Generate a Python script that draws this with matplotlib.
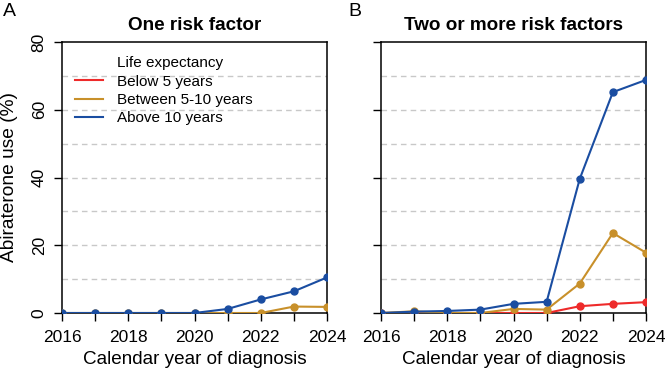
import matplotlib
matplotlib.use("Agg")
import matplotlib.pyplot as plt
from matplotlib.lines import Line2D
import numpy as np

plt.rcParams['font.family'] = ['Liberation Sans', 'DejaVu Sans']

years = [2016, 2017, 2018, 2019, 2020, 2021, 2022, 2023, 2024]
legend_title = "Life expectancy"
series_names = ["Below 5 years", "Between 5-10 years", "Above 10 years"]
colors = ["#EE2A2A", "#C8902A", "#1A4DA1"]

# Panel A: one risk factor (no visible 'below 5 years' line)
a_below5 = [np.nan] * 9
a_5to10 = [0, 0, 0, 0, 0, 0, 0, 1.9, 1.8]
a_above10 = [0, 0, 0, 0, 0, 1.2, 4.0, 6.4, 10.5]

# Panel B: two or more risk factors
b_below5 = [0, 0, 0, 0, 0, 0, 2.0, 2.7, 3.2]
b_5to10 = [0, 0.5, 0, 0, 1.2, 1.0, 8.7, 23.6, 17.8]
b_above10 = [0, 0.4, 0.6, 1.0, 2.7, 3.3, 39.6, 65.2, 68.8]

titles = ["One risk factor", "Two or more risk factors"]
panel_letters = ["A", "B"]
yticks = [0, 20, 40, 60, 80]
gridvals = [10, 20, 30, 40, 50, 60, 70]

fig = plt.figure(figsize=(6.65, 3.75), dpi=100)
axA = fig.add_axes([62/665, 1-313/375, 265/665, 271/375])
axB = fig.add_axes([381/665, 1-313/375, 265/665, 271/375])

data = [[a_below5, a_5to10, a_above10], [b_below5, b_5to10, b_above10]]

for i, ax in enumerate([axA, axB]):
    for g in gridvals:
        ax.axhline(g, color="#c8c8c8", lw=1.0, ls=(0, (4, 3)), zorder=0)
    for s, (vals, c, name) in enumerate(zip(data[i], colors, series_names)):
        ax.plot(years, vals, color=c, lw=1.5, marker='o', ms=5, label=name,
                zorder=3 + s)
    ax.set_xlim(2016, 2024)
    ax.set_ylim(0, 80)
    ax.set_xticks(years)
    ax.set_xticklabels([str(y) if y % 2 == 0 else "" for y in years])
    ax.set_yticks(yticks)
    if i == 0:
        ax.set_yticklabels([str(v) for v in yticks], rotation=90, va='center')
        ax.set_ylabel("Abiraterone use (%)", fontsize=13.8)
        ax.yaxis.set_label_coords(-0.166, 0.5)
    else:
        ax.set_yticklabels([])
    ax.tick_params(axis='both', direction='out', length=6, width=1, labelsize=12.5)
    ax.tick_params(axis='x', pad=6)
    ax.tick_params(axis='y', pad=5)
    ax.set_xlabel("Calendar year of diagnosis", fontsize=13.6)
    ax.xaxis.set_label_coords(0.5, -0.142)
    ax.set_title(titles[i], fontsize=13.6, fontweight='bold', pad=9)
    for sp in ax.spines.values():
        sp.set_linewidth(1.1)
        sp.set_color("black")

fig.text(3/665, 1-12/375, panel_letters[0], fontsize=14, va='center', ha='left')
fig.text(348/665, 1-12/375, panel_letters[1], fontsize=14, va='center', ha='left')

handles = [Line2D([], [], lw=0)] + [Line2D([], [], color=c, lw=1.5) for c in colors]
labels = [legend_title] + series_names
leg = axA.legend(handles, labels, loc='upper left', bbox_to_anchor=(0.049, 0.947),
                 frameon=False, fontsize=11, handlelength=1.85,
                 labelspacing=0.28, borderaxespad=0, borderpad=0, handletextpad=0.9)

fig.savefig("out.png", dpi=100)
